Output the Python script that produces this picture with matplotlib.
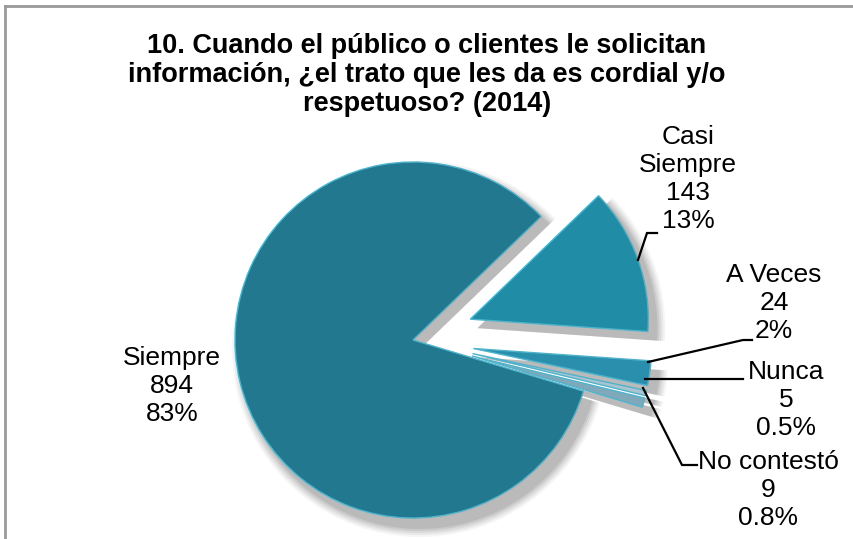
import matplotlib
matplotlib.use("Agg")
import matplotlib.pyplot as plt
from matplotlib.lines import Line2D

# datos
categorias = ["Siempre", "Casi\nSiempre", "A Veces", "Nunca", "No contestó"]
valores = [894, 143, 24, 5, 9]
porcentajes = ["83%", "13%", "2%", "0.5%", "0.8%"]
colores = ["#22788f", "#208ca5", "#2a8fad", "#a9c4d0", "#7fa9bb"]
separacion = [0, 61, 61, 61, 61]

titulo = ("10. Cuando el público o clientes le solicitan\n"
          "información, ¿el trato que les da es cordial y/o\n"
          "respetuoso? (2014)")

plt.rcParams['font.family'] = ['Liberation Sans', 'DejaVu Sans']

W, H = 854, 539
fig = plt.figure(figsize=(W / 100, H / 100), dpi=100)
ax = fig.add_axes([0, 0, 1, 1])

cx, cy, r = 413, H - 340, 178
start = -16.7

# sombra difusa
for k, a in enumerate([0.04, 0.05, 0.06, 0.07, 0.08]):
    grow = 10 - 2 * k
    ax.pie(valores, explode=separacion, startangle=start, counterclock=False,
           center=(cx + 7, cy - 9), radius=r + grow,
           colors=["#000000"] * len(valores),
           wedgeprops=dict(alpha=a, linewidth=0), frame=True)

wedges, _ = ax.pie(valores, explode=separacion, startangle=start, counterclock=False,
                   center=(cx, cy), radius=r, colors=colores,
                   wedgeprops=dict(edgecolor="#4fb3cc", linewidth=1.0), frame=True)
ax.set_xlim(0, W)
ax.set_ylim(0, H)
ax.set_aspect("auto")
ax.axis("off")

fig.text(427 / W, 1 - 75 / H, titulo, ha="center", va="center", fontsize=19.5,
         fontweight="bold", linespacing=1.15)

fs = 19
ls = 1.22


def etiqueta(x, y, texto):
    ax.text(x, H - y, texto, ha="center", va="center", fontsize=fs, linespacing=ls)


etiqueta(172, 386, f"{categorias[0]}\n{valores[0]}\n{porcentajes[0]}")
etiqueta(688, 179, f"{categorias[1]}\n{valores[1]}\n{porcentajes[1]}")
etiqueta(774, 303, f"{categorias[2]}\n{valores[2]}\n{porcentajes[2]}")
etiqueta(786, 400, f"{categorias[3]}\n{valores[3]}\n{porcentajes[3]}")
etiqueta(768, 490, f"{categorias[4]}\n{valores[4]}\n{porcentajes[4]}")

# líneas guía
guias = [
    [(638, 260), (647, 233), (657, 233)],
    [(648, 362), (743, 340), (752, 340)],
    [(645, 379), (743, 379)],
    [(643, 388), (682, 465), (697, 465)],
]
for g in guias:
    xs = [p[0] for p in g]
    ys = [H - p[1] for p in g]
    ax.plot(xs, ys, color="black", linewidth=1.6, solid_joinstyle="miter")

# marco
fig.add_artist(Line2D([5 / W, 5 / W], [0, 1 - 6 / H], transform=fig.transFigure,
                      color="#999999", linewidth=2))
fig.add_artist(Line2D([5 / W, 1], [1 - 6 / H, 1 - 6 / H], transform=fig.transFigure,
                      color="#999999", linewidth=2))

fig.savefig("out.png", dpi=100)
